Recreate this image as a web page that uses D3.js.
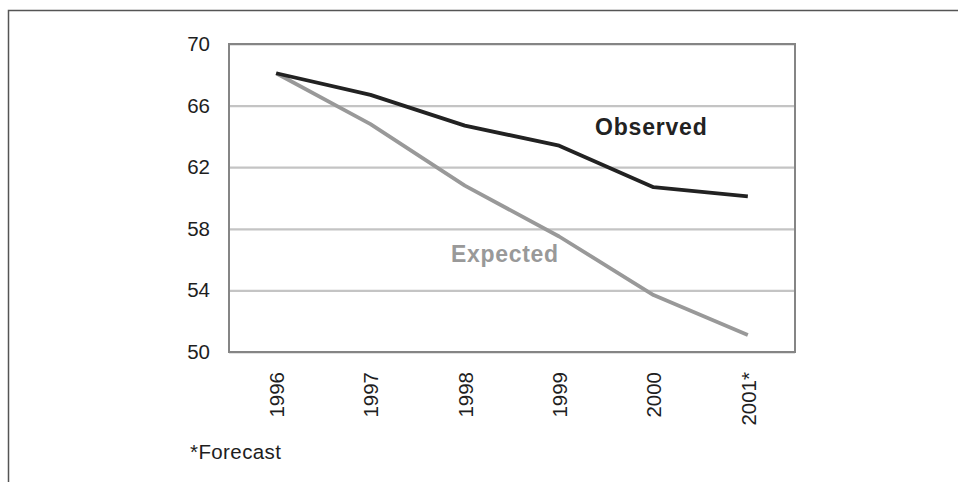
<!DOCTYPE html>
<html>
<head>
<meta charset="utf-8">
<script src="https://cdn.jsdelivr.net/npm/d3@7"></script>
<style>
  body { margin: 0; background: #fff; }
  svg { display: block; font-family: "Liberation Sans", Arial, sans-serif; }
</style>
</head>
<body>
<svg id="chart"></svg>
<script>
const years = ["1996", "1997", "1998", "1999", "2000", "2001*"];
const observed = [68.1, 66.7, 64.7, 63.4, 60.7, 60.1];
const expected = [68.1, 64.8, 60.8, 57.5, 53.7, 51.1];
const yTicks = [50, 54, 58, 62, 66, 70];

const W = 958, H = 482;
const margin = { top: 44, right: 163, bottom: 130, left: 229 };
const width = W - margin.left - margin.right;
const height = H - margin.top - margin.bottom;

const svg = d3.select("#chart")
  .attr("width", W)
  .attr("height", H);

// outer frame, only top and left edges show
svg.append("rect")
  .attr("x", 8.5).attr("y", 10.5)
  .attr("width", 1200).attr("height", 800)
  .attr("fill", "none")
  .attr("stroke", "#555")
  .attr("stroke-width", 1.5);

const g = svg.append("g")
  .attr("transform", "translate(" + margin.left + "," + margin.top + ")");

const xScale = d3.scalePoint()
  .domain(years)
  .range([0, width])
  .padding(0.5);

const yScale = d3.scaleLinear()
  .domain([50, 70])
  .range([height, 0]);

// gridlines
g.append("g")
  .attr("class", "grid")
  .call(d3.axisLeft(yScale).tickValues(yTicks).tickSize(-width).tickFormat(""))
  .call(s => s.select(".domain").remove())
  .selectAll(".tick line")
  .attr("stroke", "#c4c4c4")
  .attr("stroke-width", 2.2);

// plot frame
g.append("rect")
  .attr("x", 0).attr("y", 0)
  .attr("width", width).attr("height", height)
  .attr("fill", "none")
  .attr("stroke", "#858585")
  .attr("stroke-width", 2);

// y labels
g.append("g")
  .call(d3.axisLeft(yScale).tickValues(yTicks).tickSize(0).tickPadding(19))
  .call(s => s.select(".domain").remove())
  .selectAll("text")
  .attr("font-size", 20.5)
  .attr("font-family", "Liberation Sans, Arial, sans-serif")
  .attr("fill", "#1e1e1e");

// x labels, rotated
g.append("g")
  .attr("transform", "translate(0," + height + ")")
  .call(d3.axisBottom(xScale).tickSize(0))
  .call(s => s.select(".domain").remove())
  .selectAll("text")
  .attr("font-size", 20.5)
  .attr("font-family", "Liberation Sans, Arial, sans-serif")
  .attr("fill", "#1e1e1e")
  .attr("text-anchor", "end")
  .attr("transform", "rotate(-90)")
  .attr("x", -20)
  .attr("y", 0)
  .attr("dy", "0.35em");

const line = d3.line()
  .x((d, i) => xScale(years[i]))
  .y(d => yScale(d));

g.append("path")
  .datum(expected)
  .attr("fill", "none")
  .attr("stroke", "#999")
  .attr("stroke-width", 3.8)
  .attr("stroke-linejoin", "round")
  .attr("d", line);

g.append("path")
  .datum(observed)
  .attr("fill", "none")
  .attr("stroke", "#222")
  .attr("stroke-width", 3.8)
  .attr("stroke-linejoin", "round")
  .attr("d", line);

// series labels
svg.append("text")
  .attr("x", 595).attr("y", 135)
  .attr("font-size", 23)
  .attr("font-weight", "bold")
  .attr("letter-spacing", 0.8)
  .attr("fill", "#222")
  .text("Observed");

svg.append("text")
  .attr("x", 451).attr("y", 262)
  .attr("font-size", 23)
  .attr("font-weight", "bold")
  .attr("letter-spacing", 0.7)
  .attr("fill", "#999")
  .text("Expected");

svg.append("text")
  .attr("x", 190).attr("y", 459)
  .attr("font-size", 20.5)
  .attr("letter-spacing", 0.4)
  .attr("fill", "#1e1e1e")
  .text("*Forecast");
</script>
</body>
</html>
